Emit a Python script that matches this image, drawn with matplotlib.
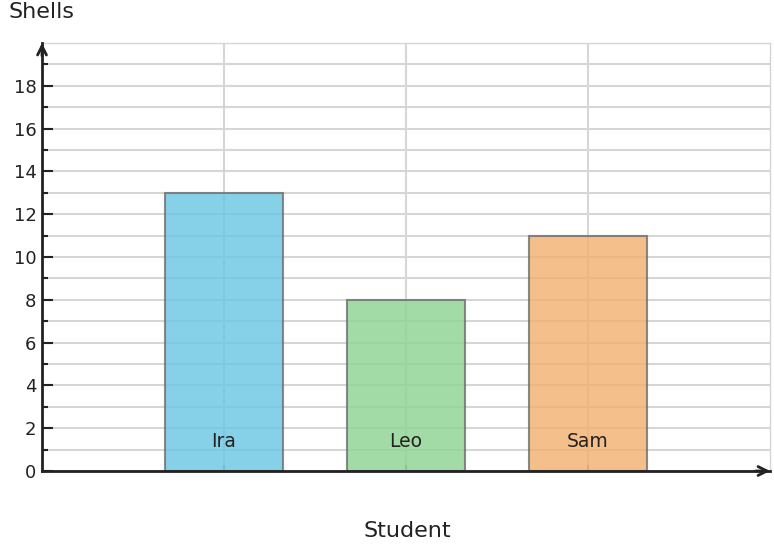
import matplotlib.pyplot as plt

students = ["Ira", "Leo", "Sam"]
shells = [13, 8, 11]
colors = ["#6cc6e4", "#8ed491", "#f2b170"]

fig = plt.figure(figsize=(7.74, 5.48), dpi=100)
ax = fig.add_axes([42 / 774, 77 / 548, 728 / 774, 428 / 548])

pos = [1, 2, 3]
ax.bar(pos, shells, width=0.65, color=colors, edgecolor="#707070",
       linewidth=1.5, alpha=0.82, zorder=1)
for x, name in zip(pos, students):
    ax.text(x, 1.4, name, ha="center", va="center", fontsize=13.5, color="#222222", zorder=4)

ax.set_xlim(0, 4)
ax.set_ylim(0, 20)
ax.set_yticks(range(0, 20, 2))
ax.set_yticks(range(1, 20, 2), minor=True)
ax.set_xticks(pos)
ax.set_xticklabels([])
ax.tick_params(axis="y", which="major", direction="in", length=8, width=1.5,
               labelsize=13, labelcolor="#222222", color="#222222", pad=4)
ax.tick_params(axis="y", which="minor", direction="in", length=4, width=1.5, color="#222222")
ax.tick_params(axis="x", direction="in", length=4, width=1.5, color="#a08060")

ax.grid(True, which="both", axis="y", color="#d6d6d6", linewidth=1.5, zorder=0)
ax.grid(True, which="major", axis="x", color="#d6d6d6", linewidth=1.5, zorder=0)
ax.set_axisbelow(True)

for s in ["top", "right"]:
    ax.spines[s].set_color("#d6d6d6")
    ax.spines[s].set_linewidth(1)
for s in ["left", "bottom"]:
    ax.spines[s].set_color("#222222")
    ax.spines[s].set_linewidth(2)
    ax.spines[s].set_zorder(5)

arrow = dict(arrowstyle="->", color="#222222", lw=2, mutation_scale=16,
             shrinkA=0, shrinkB=0)
ax.annotate("", xy=(0, 1.0), xytext=(0, 0.97), xycoords="axes fraction",
            arrowprops=arrow, annotation_clip=False, zorder=6)
ax.annotate("", xy=(1.0, 0), xytext=(0.98, 0), xycoords="axes fraction",
            arrowprops=arrow, annotation_clip=False, zorder=6)

fig.text(8 / 774, 1 - 12 / 548, "Shells", fontsize=16, color="#222222", ha="left", va="center")
fig.text(407 / 774, 1 - 531 / 548, "Student", fontsize=16, color="#222222", ha="center", va="center")

fig.savefig("out.png", dpi=100)
